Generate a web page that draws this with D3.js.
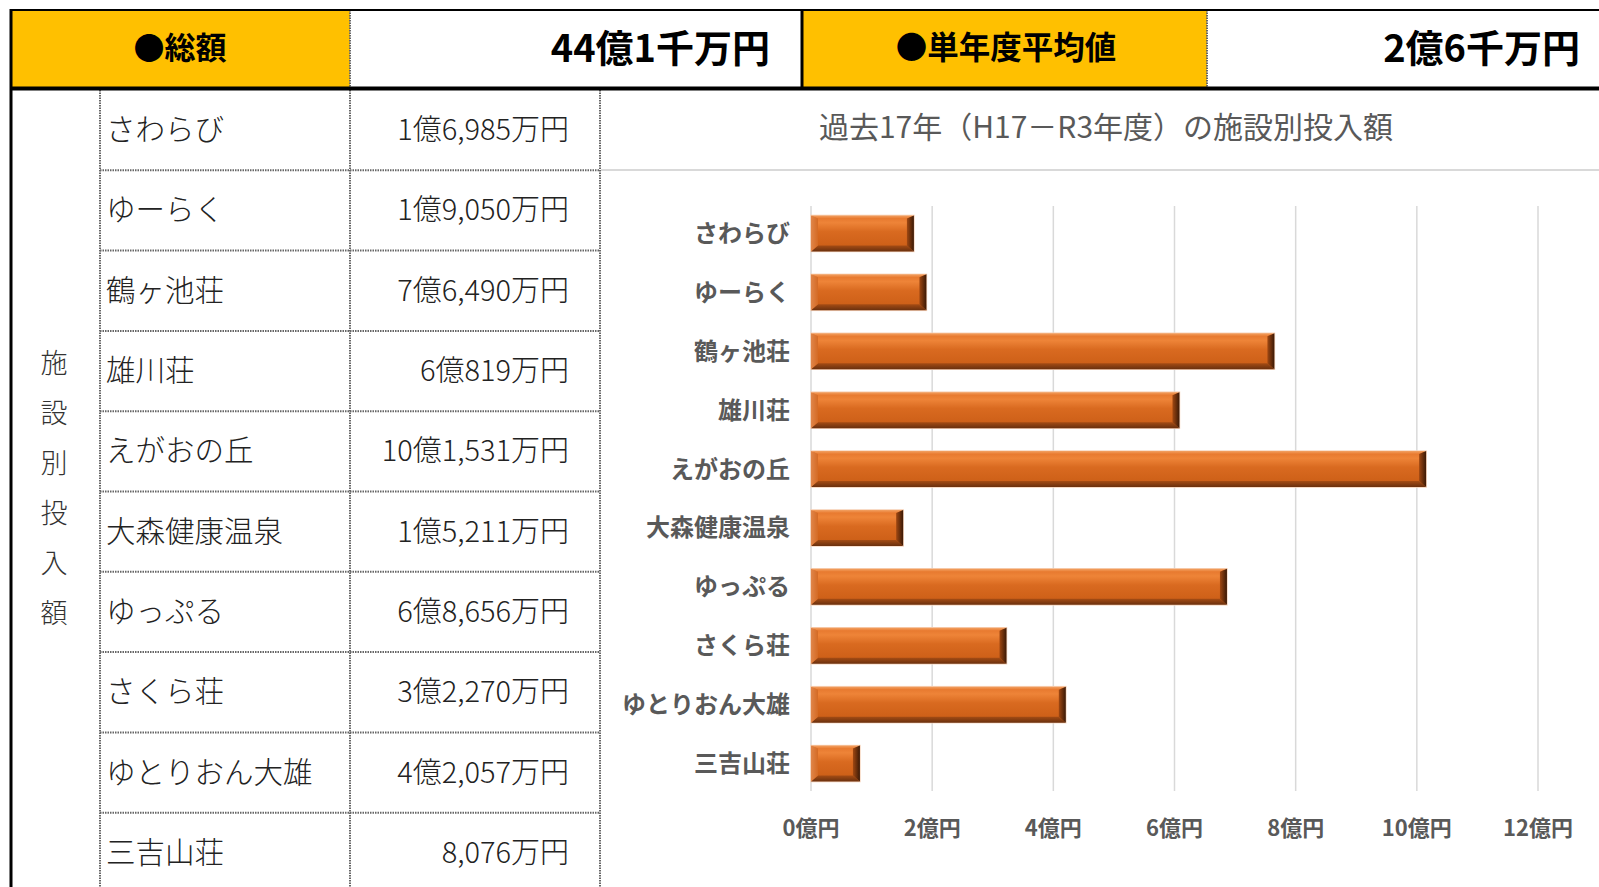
<!DOCTYPE html>
<html lang="ja">
<head>
<meta charset="UTF-8">
<title>施設別投入額</title>
<script src="https://d3js.org/d3.v7.min.js"></script>
<style>
  body, html { margin: 0; padding: 0; overflow: hidden; background: #fff; }
  svg { display: block; }
  text { font-family: "Noto Sans CJK JP", "Noto Sans", sans-serif; }
</style>
</head>
<body>
<svg id="chart" width="1599" height="887"></svg>
<script>
// facilities, in table / chart order
const facilities = ["さわらび", "ゆーらく", "鶴ヶ池荘", "雄川荘", "えがおの丘", "大森健康温泉", "ゆっぷる", "さくら荘", "ゆとりおん大雄", "三吉山荘"];
// investment per facility (万円)
const amounts = [16985, 19050, 76490, 60819, 101531, 15211, 68656, 32270, 42057, 8076];
// x axis ticks (億円)
const xTicks = [0, 2, 4, 6, 8, 10, 12];
const headerLabels = ["●総額", "●単年度平均値"];
const headerValues = ["44億1千万円", "2億6千万円"];
const sideLabel = "施設別投入額";
const chartTitle = "過去17年（H17－R3年度）の施設別投入額";

const svg = d3.select("#chart");
const W = 1599, H = 887;

// formats 16985 -> "1億6,985万円"
function yen(v) {
    const oku = Math.floor(v / 10000), man = v % 10000;
    return (oku ? oku + "億" : "") + d3.format(",")(man) + "万円";
}

// ---------- header row ----------
const yellow = "#FFC000";
svg.append("rect").attr("x", 10).attr("y", 10).attr("width", 340).attr("height", 78).attr("fill", yellow);
svg.append("rect").attr("x", 803).attr("y", 10).attr("width", 404).attr("height", 78).attr("fill", yellow);

svg.append("text").attr("x", 180).attr("y", 45).attr("text-anchor", "middle").attr("dominant-baseline", "central")
    .attr("font-size", 31).attr("font-weight", 700).attr("fill", "#000").text(headerLabels[0]);
svg.append("text").attr("x", 1006).attr("y", 45).attr("text-anchor", "middle").attr("dominant-baseline", "central")
    .attr("font-size", 31.5).attr("font-weight", 700).attr("fill", "#000").text(headerLabels[1]);
svg.append("text").attr("x", 770).attr("y", 45).attr("text-anchor", "end").attr("dominant-baseline", "central")
    .attr("font-size", 38).attr("font-weight", 700).attr("fill", "#000").text(headerValues[0]);
svg.append("text").attr("x", 1580).attr("y", 45).attr("text-anchor", "end").attr("dominant-baseline", "central")
    .attr("font-size", 38).attr("font-weight", 700).attr("fill", "#000").text(headerValues[1]);

// ---------- table ----------
const rowTop = 90, rowH = 80.3;
const dotted = g => g.attr("stroke", "#666").attr("stroke-width", 2).attr("stroke-dasharray", "1.5,1");

const table = svg.append("g");
facilities.forEach((f, i) => {
    const cy = rowTop + rowH * i + rowH / 2 - 3;
    table.append("text").attr("x", 106).attr("y", cy).attr("dominant-baseline", "central")
        .attr("font-size", 29.5).attr("font-weight", 300).attr("fill", "#222").text(f);
    table.append("text").attr("x", 569).attr("y", cy).attr("text-anchor", "end").attr("dominant-baseline", "central")
        .attr("font-size", 29).attr("font-weight", 300).attr("fill", "#222").text(yen(amounts[i]));
    table.append("line").attr("x1", 100).attr("x2", 600)
        .attr("y1", rowTop + rowH * (i + 1)).attr("y2", rowTop + rowH * (i + 1)).call(dotted);
});
[100, 350, 600].forEach(x => {
    table.append("line").attr("x1", x).attr("x2", x).attr("y1", 90).attr("y2", H).call(dotted);
});
[350, 1207].forEach(x => {
    table.append("line").attr("x1", x).attr("x2", x).attr("y1", 10).attr("y2", 88).call(dotted);
});

// vertical side label
sideLabel.split("").forEach((c, i) => {
    svg.append("text").attr("x", 54).attr("y", 361 + i * 50).attr("text-anchor", "middle")
        .attr("dominant-baseline", "central").attr("font-size", 27).attr("font-weight", 300).attr("fill", "#333").text(c);
});

// heavy borders
svg.append("line").attr("x1", 10).attr("x2", W).attr("y1", 10).attr("y2", 10).attr("stroke", "#000").attr("stroke-width", 2);
svg.append("line").attr("x1", 10).attr("x2", W).attr("y1", 88.5).attr("y2", 88.5).attr("stroke", "#000").attr("stroke-width", 4);
svg.append("line").attr("x1", 11).attr("x2", 11).attr("y1", 9).attr("y2", H).attr("stroke", "#000").attr("stroke-width", 3);
svg.append("line").attr("x1", 802).attr("x2", 802).attr("y1", 9).attr("y2", 88).attr("stroke", "#000").attr("stroke-width", 3);

// ---------- chart ----------
svg.append("line").attr("x1", 601).attr("x2", W).attr("y1", 170).attr("y2", 170).attr("stroke", "#d9d9d9").attr("stroke-width", 2);
svg.append("text").attr("x", 1106).attr("y", 125).attr("text-anchor", "middle").attr("dominant-baseline", "central")
    .attr("font-size", 30).attr("fill", "#595959").text(chartTitle);

const x = d3.scaleLinear().domain([0, 12]).range([811, 1538]);
const y = d3.scaleBand().domain(facilities).range([204, 793]).paddingInner(0.389).paddingOuter(0.1945);

const defs = svg.append("defs");
function vGrad(id, stops, horizontal) {
    const g = defs.append("linearGradient").attr("id", id)
        .attr("x1", 0).attr("y1", 0).attr("x2", horizontal ? 1 : 0).attr("y2", horizontal ? 0 : 1);
    stops.forEach(([o, c]) => g.append("stop").attr("offset", o).attr("stop-color", c));
}
vGrad("faceGrad", [[0, "#e3732a"], [0.2, "#ee8438"], [0.45, "#d96a20"], [1, "#c95c15"]]);
vGrad("topGrad", [[0, "#f2a163"], [1, "#e97b30"]]);
vGrad("botGrad", [[0, "#a54c14"], [1, "#6a300e"]]);
vGrad("rightGrad", [[0, "#a04812"], [1, "#3a1906"]], true);
vGrad("leftGrad", [[0, "#e0864a"], [1, "#d46a24"]], true);

// grid
svg.append("g").selectAll("line").data(xTicks).join("line")
    .attr("x1", d => x(d)).attr("x2", d => x(d)).attr("y1", 206).attr("y2", 791)
    .attr("stroke", "#d9d9d9").attr("stroke-width", 1.5);

// x tick labels
svg.append("g").selectAll("text").data(xTicks).join("text")
    .attr("x", d => x(d)).attr("y", 826).attr("text-anchor", "middle").attr("dominant-baseline", "central")
    .attr("font-size", 22).attr("font-weight", 700).attr("fill", "#595959").text(d => d + "億円");

// category labels
svg.append("g").selectAll("text").data(facilities).join("text")
    .attr("x", 790).attr("y", d => y(d) + y.bandwidth() / 2 - 2).attr("text-anchor", "end").attr("dominant-baseline", "central")
    .attr("font-size", 24).attr("font-weight", 700).attr("fill", "#595959").text(d => d);

// bars with bevel
const bx = i => x(amounts[i] / 10000);
const bars = svg.append("g").selectAll("g").data(facilities).join("g");
const bev = 7, bevY = 6;
bars.append("rect")
    .attr("x", x(0)).attr("y", d => y(d))
    .attr("width", (d, i) => bx(i) - x(0)).attr("height", y.bandwidth())
    .attr("fill", "url(#faceGrad)").attr("stroke", "#f7d3ba").attr("stroke-width", 1.5);
const facet = (cls, fill, pts) => bars.append("polygon").attr("fill", fill)
    .attr("points", (d, i) => {
        const x0 = x(0), x1 = bx(i), y0 = y(d), y1 = y0 + y.bandwidth();
        return pts(x0, x1, y0, y1).join(" ");
    });
facet("top", "url(#topGrad)", (x0, x1, y0, y1) => [[x0, y0], [x1, y0], [x1 - bev, y0 + bevY / 2], [x0 + bev, y0 + bevY / 2]]);
facet("bot", "url(#botGrad)", (x0, x1, y0, y1) => [[x0 + bev, y1 - bevY], [x1 - bev, y1 - bevY], [x1, y1], [x0, y1]]);
facet("left", "url(#leftGrad)", (x0, x1, y0, y1) => [[x0, y0], [x0 + bev, y0 + bevY / 2], [x0 + bev, y1 - bevY], [x0, y1]]);
facet("right", "url(#rightGrad)", (x0, x1, y0, y1) => [[x1 - bev, y0 + bevY / 2], [x1, y0], [x1, y1], [x1 - bev, y1 - bevY]]);
</script>
</body>
</html>
